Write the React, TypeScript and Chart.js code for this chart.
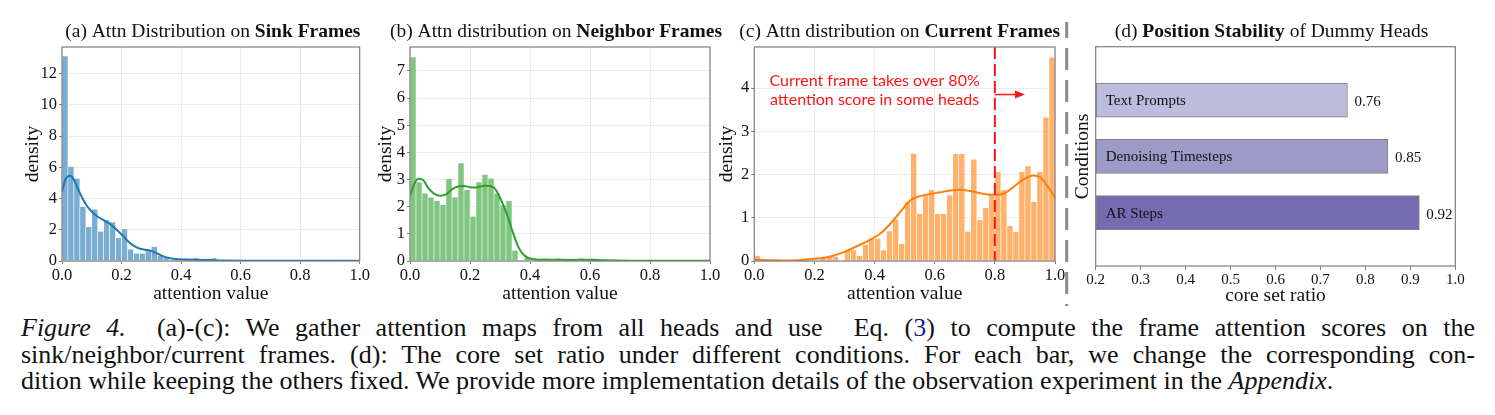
import React, { useEffect, useRef } from "react";
import { Chart, registerables } from "chart.js";

Chart.register(...registerables);

// ---- histogram data (density per 0.02-wide bin, 50 bins over [0, 1]) ----
const BIN_WIDTH = 0.02;

const SINK_DENSITY = [
  13.1, 6.04, 5.28, 3.48, 2.17, 3.3, 1.89, 2.61, 2.48, 1.48,
  2.04, 0.74, 0.48, 0.48, 0.65, 0.91, 0.33, 0.22, 0.09, 0.09,
  0.09, 0.13, 0.17, 0.07, 0.05, 0.17, 0.05, 0.03, 0.03, 0.02,
  0.02, 0.06, 0.02, 0.01, 0.01, 0.01, 0.01, 0.01, 0, 0,
  0.01, 0.01, 0, 0.01, 0.08, 0.02, 0, 0, 0, 0,
];

const NEIGHBOR_DENSITY = [
  7.5, 2.9, 2.49, 2.34, 2.21, 2.06, 3.03, 2.34, 3.6, 2.61,
  1.64, 2.9, 3.18, 3.04, 2.49, 2.05, 2.22, 0.39, 0, 0.12,
  0, 0.02, 0.09, 0.02, 0.09, 0.02, 0.02, 0.02, 0.09, 0.02,
  0.09, 0.01, 0, 0, 0, 0, 0, 0, 0, 0,
  0, 0, 0, 0, 0, 0, 0, 0, 0, 0,
];

const CURRENT_DENSITY = [
  0.12, 0, 0, 0, 0, 0, 0, 0, 0, 0,
  0, 0.1, 0.1, 0.1, 0, 0.25, 0.25, 0.12, 0.37, 0.52,
  0.52, 0.25, 0.69, 0.96, 0.4, 1.37, 2.48, 1.09, 1.52, 1.64,
  1.09, 1.09, 1.52, 2.48, 2.48, 0.68, 2.35, 0.95, 1.23, 1.52,
  2.06, 1.64, 0.81, 0.67, 2.06, 2.19, 1.37, 2.06, 3.32, 4.71,
];

// ---- kernel density estimates ----
const SINK_KDE_X = [0, 0.01, 0.02, 0.028, 0.04, 0.06, 0.08, 0.1, 0.12, 0.14, 0.16, 0.18, 0.2, 0.22, 0.24, 0.26, 0.28, 0.3, 0.32, 0.34, 0.36, 0.38, 0.42, 0.47, 0.53, 0.64, 0.76, 0.89, 1.0];
const SINK_KDE_Y = [4.42, 5.15, 5.42, 5.46, 5.2, 4.35, 3.63, 3.15, 2.83, 2.61, 2.39, 2.07, 1.7, 1.3, 0.98, 0.8, 0.72, 0.65, 0.48, 0.3, 0.2, 0.13, 0.09, 0.07, 0.04, 0.02, 0.01, 0.02, 0.01];

const NEIGHBOR_KDE_X = [0, 0.01, 0.027, 0.044, 0.06, 0.08, 0.1, 0.12, 0.14, 0.16, 0.18, 0.2, 0.22, 0.25, 0.278, 0.3, 0.322, 0.344, 0.361, 0.38, 0.4, 0.43, 0.48, 0.53, 0.59, 0.65, 0.75, 1.0];
const NEIGHBOR_KDE_Y = [2.4, 2.72, 3.03, 2.98, 2.7, 2.48, 2.4, 2.45, 2.64, 2.74, 2.76, 2.72, 2.71, 2.77, 2.72, 2.33, 1.75, 1.02, 0.52, 0.21, 0.09, 0.05, 0.05, 0.04, 0.05, 0.03, 0.01, 0.005];

const CURRENT_KDE_X = [0, 0.05, 0.1, 0.15, 0.2, 0.25, 0.3, 0.34, 0.38, 0.42, 0.451, 0.485, 0.518, 0.551, 0.584, 0.618, 0.651, 0.684, 0.717, 0.751, 0.784, 0.8, 0.828, 0.861, 0.894, 0.928, 0.95, 0.973, 0.99, 1.0];
const CURRENT_KDE_Y = [0.03, 0.02, 0.01, 0.02, 0.05, 0.1, 0.21, 0.34, 0.47, 0.64, 0.85, 1.13, 1.4, 1.5, 1.55, 1.59, 1.63, 1.65, 1.62, 1.57, 1.53, 1.53, 1.55, 1.71, 1.88, 1.98, 1.94, 1.75, 1.58, 1.46];

// ---- core set ratio per condition ----
const CONDITIONS = ["Text Prompts", "Denoising Timesteps", "AR Steps"];
const CORE_SET_RATIO = [0.76, 0.85, 0.92];
const CONDITION_COLORS = ["#bcbddc", "#9e9ac8", "#756bb1"];

const ATTN_THRESHOLD = 0.8;
const ANNOTATION_LINES = ["Current frame takes over 80%", "attention score in some heads"];

const SERIF = '"Liberation Serif", "Times New Roman", serif';
const INK = "#111111";
const SPINE = "#7f7f7f";
const GRID = "#ebebeb";

type Part = { text: string; bold?: boolean };

function titlePlugin(parts: Part[], shift = 0) {
  return {
    id: "panelTitle",
    afterDraw(chart: any) {
      const { ctx, chartArea } = chart;
      const fontOf = (p: Part) => `${p.bold ? "bold " : ""}19.5px ${SERIF}`;
      ctx.save();
      const widths = parts.map((p) => {
        ctx.font = fontOf(p);
        return ctx.measureText(p.text).width;
      });
      const total = widths.reduce((a, b) => a + b, 0);
      let x = (chartArea.left + chartArea.right) / 2 - total / 2 + shift;
      ctx.fillStyle = INK;
      ctx.textAlign = "left";
      ctx.textBaseline = "alphabetic";
      parts.forEach((p, i) => {
        ctx.font = fontOf(p);
        ctx.fillText(p.text, x, 37);
        x += widths[i];
      });
      ctx.restore();
    },
  };
}

const framePlugin = {
  id: "frame",
  afterDraw(chart: any) {
    const { ctx, chartArea: a } = chart;
    ctx.save();
    ctx.strokeStyle = SPINE;
    ctx.lineWidth = 1.2;
    ctx.strokeRect(a.left, a.top, a.right - a.left, a.bottom - a.top);
    ctx.restore();
  },
};

// red threshold marker on the current-frame panel
const thresholdPlugin = {
  id: "threshold",
  afterDatasetsDraw(chart: any) {
    const { ctx, chartArea: a, scales } = chart;
    const xs = scales.x;
    const ys = scales.y;
    const px = xs.getPixelForValue(ATTN_THRESHOLD);
    ctx.save();
    ctx.strokeStyle = "#ff1414";
    ctx.fillStyle = "#ff1414";
    ctx.lineWidth = 2;
    ctx.setLineDash([12, 5]);
    ctx.beginPath();
    ctx.moveTo(px, a.top);
    ctx.lineTo(px, a.bottom);
    ctx.stroke();
    ctx.setLineDash([]);
    const ay = ys.getPixelForValue(3.85);
    const tip = xs.getPixelForValue(0.9);
    ctx.lineWidth = 1.5;
    ctx.beginPath();
    ctx.moveTo(px, ay);
    ctx.lineTo(tip - 8, ay);
    ctx.stroke();
    ctx.beginPath();
    ctx.moveTo(tip, ay);
    ctx.lineTo(tip - 10, ay - 4);
    ctx.lineTo(tip - 10, ay + 4);
    ctx.closePath();
    ctx.fill();
    ctx.font = '16px Lato, "Noto Sans", sans-serif';
    ctx.textAlign = "center";
    ctx.textBaseline = "alphabetic";
    const cx = xs.getPixelForValue(0.4);
    ctx.fillText(ANNOTATION_LINES[0], cx, ys.getPixelForValue(4.05));
    ctx.fillText(ANNOTATION_LINES[1], cx, ys.getPixelForValue(3.6));
    ctx.restore();
  },
};

type HistSpec = {
  density: number[];
  kdeX: number[];
  kdeY: number[];
  fill: string;
  line: string;
  yMax: number;
  yStep: number;
  yAxisWidth: number;
  yTitlePad: number;
  padRight: number;
  title: Part[];
  titleShift: number;
  extra?: any[];
};

function histConfig(s: HistSpec): any {
  return {
    type: "bar",
    data: {
      datasets: [
        {
          type: "line",
          data: s.kdeX.map((x, i) => ({ x, y: s.kdeY[i] })),
          borderColor: s.line,
          borderWidth: 2,
          pointRadius: 0,
          cubicInterpolationMode: "monotone",
          fill: false,
          order: 0,
        },
        {
          type: "bar",
          data: s.density.map((v, i) => ({ x: (i + 0.5) * BIN_WIDTH, y: v })),
          backgroundColor: s.fill,
          borderColor: "#ffffff",
          borderWidth: { left: 0.6, right: 0.6, top: 0, bottom: 0 },
          borderSkipped: false,
          barPercentage: 1,
          categoryPercentage: 1,
          order: 1,
        },
      ],
    },
    options: {
      responsive: false,
      maintainAspectRatio: false,
      animation: false,
      devicePixelRatio: 1,
      layout: { padding: { left: 0, top: 47, right: s.padRight, bottom: 0 } },
      plugins: { legend: { display: false }, tooltip: { enabled: false } },
      scales: {
        x: {
          type: "linear",
          min: 0,
          max: 1,
          offset: false,
          afterFit: (sc: any) => {
            sc.height = 49;
          },
          grid: { offset: false, color: GRID, tickColor: SPINE, tickLength: 3 },
          border: { display: false },
          ticks: {
            stepSize: 0.2,
            autoSkip: false,
            maxRotation: 0,
            padding: 2,
            color: INK,
            font: { family: SERIF, size: 16.5 },
            callback: (v: any) => Number(v).toFixed(1),
          },
          title: {
            display: true,
            text: "attention value",
            color: INK,
            font: { family: SERIF, size: 19.5 },
            padding: { top: 0, bottom: 4 },
          },
        },
        y: {
          type: "linear",
          min: 0,
          max: s.yMax,
          afterFit: (sc: any) => {
            sc.width = s.yAxisWidth;
          },
          grid: { color: GRID, tickColor: SPINE, tickLength: 3 },
          border: { display: false },
          ticks: {
            stepSize: s.yStep,
            includeBounds: false,
            autoSkip: false,
            padding: 2,
            color: INK,
            font: { family: SERIF, size: 16.5 },
          },
          title: {
            display: true,
            text: "density",
            color: INK,
            font: { family: SERIF, size: 19.5 },
            padding: { top: s.yTitlePad, bottom: 0 },
          },
        },
      },
    },
    plugins: [framePlugin, titlePlugin(s.title, s.titleShift), ...(s.extra || [])],
  };
}

// bar labels and the panel separator for the core-set-ratio panel
const conditionLabelPlugin = {
  id: "conditionLabels",
  afterDraw(chart: any) {
    const { ctx, chartArea: a } = chart;
    const meta = chart.getDatasetMeta(0);
    ctx.save();
    ctx.fillStyle = INK;
    ctx.font = `15px ${SERIF}`;
    ctx.textBaseline = "middle";
    meta.data.forEach((bar: any, i: number) => {
      ctx.textAlign = "left";
      ctx.fillText(CONDITIONS[i], a.left + 10, bar.y + 1);
      ctx.fillText(CORE_SET_RATIO[i].toFixed(2), bar.x + 7, bar.y + 2);
    });
    // dashed divider between the histogram panels and this one
    ctx.strokeStyle = "#8a8a8a";
    ctx.lineWidth = 3;
    ctx.setLineDash([22, 10]);
    ctx.lineDashOffset = 6;
    ctx.beginPath();
    ctx.moveTo(6.7, 22);
    ctx.lineTo(6.7, 306);
    ctx.stroke();
    ctx.restore();
  },
};

function ratioConfig(): any {
  return {
    type: "bar",
    data: {
      datasets: [
        {
          data: CORE_SET_RATIO.map((v, i) => ({ x: v, y: i })),
          backgroundColor: CONDITION_COLORS,
          borderColor: "#808080",
          borderWidth: 1,
          borderSkipped: false,
          base: 0.2,
          barThickness: 34,
        },
      ],
    },
    options: {
      indexAxis: "y",
      responsive: false,
      maintainAspectRatio: false,
      animation: false,
      devicePixelRatio: 1,
      layout: { padding: { left: 0, top: 46.7, right: 39.7, bottom: 0 } },
      plugins: { legend: { display: false }, tooltip: { enabled: false } },
      scales: {
        x: {
          type: "linear",
          min: 0.2,
          max: 1.0,
          afterFit: (sc: any) => {
            sc.height = 44;
          },
          grid: { drawOnChartArea: false, tickColor: SPINE, tickLength: 4 },
          border: { display: false },
          ticks: {
            stepSize: 0.1,
            autoSkip: false,
            maxRotation: 0,
            padding: 1,
            color: INK,
            font: { family: SERIF, size: 15 },
            callback: (v: any) => Number(v).toFixed(1),
          },
          title: {
            display: true,
            text: "core set ratio",
            color: INK,
            font: { family: SERIF, size: 19.5 },
            padding: { top: 0, bottom: 2 },
          },
        },
        y: {
          type: "linear",
          min: -0.67,
          max: 2.67,
          reverse: true,
          afterFit: (sc: any) => {
            sc.width = 35.7;
          },
          grid: { display: false },
          border: { display: false },
          ticks: { display: false },
          title: {
            display: true,
            text: "Conditions",
            color: INK,
            font: { family: SERIF, size: 19.5 },
            padding: { top: 11, bottom: 0 },
          },
        },
      },
    },
    plugins: [
      framePlugin,
      titlePlugin(
        [
          { text: "(d) " },
          { text: "Position Stability", bold: true },
          { text: " of Dummy Heads" },
        ],
        -4
      ),
      conditionLabelPlugin,
    ],
  };
}

function ChartCanvas({ make, left, width }: { make: () => any; left: number; width: number }) {
  const ref = useRef<HTMLCanvasElement>(null);
  useEffect(() => {
    const chart = new Chart(ref.current as HTMLCanvasElement, make());
    return () => chart.destroy();
  }, []);
  return (
    <canvas
      ref={ref}
      width={width}
      height={310}
      style={{ position: "absolute", left, top: 0, width, height: 310 }}
    />
  );
}

const sinkPanel = () =>
  histConfig({
    density: SINK_DENSITY,
    kdeX: SINK_KDE_X,
    kdeY: SINK_KDE_Y,
    fill: "#79add2",
    line: "#1f77b4",
    yMax: 13.7,
    yStep: 2,
    yAxisWidth: 62,
    yTitlePad: 21.3,
    padRight: 9,
    title: [{ text: "(a) Attn Distribution on " }, { text: "Sink Frames", bold: true }],
    titleShift: 2,
  });

const neighborPanel = () =>
  histConfig({
    density: NEIGHBOR_DENSITY,
    kdeX: NEIGHBOR_KDE_X,
    kdeY: NEIGHBOR_KDE_Y,
    fill: "#80c680",
    line: "#2ca02c",
    yMax: 7.88,
    yStep: 1,
    yAxisWidth: 38,
    yTitlePad: 2.3,
    padRight: 34,
    title: [{ text: "(b) Attn distribution on " }, { text: "Neighbor Frames", bold: true }],
    titleShift: -4,
  });

const currentPanel = () =>
  histConfig({
    density: CURRENT_DENSITY,
    kdeX: CURRENT_KDE_X,
    kdeY: CURRENT_KDE_Y,
    fill: "#ffb26c",
    line: "#ff7f0e",
    yMax: 4.95,
    yStep: 1,
    yAxisWidth: 40.3,
    yTitlePad: 1.3,
    padRight: 21,
    title: [{ text: "(c) Attn distribution on " }, { text: "Current Frames", bold: true }],
    titleShift: -5,
    extra: [thresholdPlugin],
  });

export default function App() {
  return (
    <div
      style={{
        position: "absolute",
        left: 0,
        top: 0,
        width: 1495,
        height: 415,
        background: "#ffffff",
        overflow: "hidden",
      }}
    >
      <ChartCanvas make={sinkPanel} left={0} width={372} />
      <ChartCanvas make={neighborPanel} left={372} width={372} />
      <ChartCanvas make={currentPanel} left={714} width={362} />
      <ChartCanvas make={ratioConfig} left={1060} width={435} />
      <div
        style={{
          position: "absolute",
          left: 21,
          top: 315,
          width: 1454,
          fontFamily: SERIF,
          fontSize: 26,
          lineHeight: "26.5px",
          color: INK,
        }}
      >
        <div style={{ textAlign: "justify", textAlignLast: "justify" }}>
          <i>Figure 4.</i>&nbsp; (a)-(c): We gather attention maps from all heads and use&nbsp; Eq. (
          <span style={{ color: "#1a1a8c" }}>3</span>) to compute the frame attention scores on the
        </div>
        <div style={{ textAlign: "justify", textAlignLast: "justify" }}>
          sink/neighbor/current frames. (d): The core set ratio under different conditions. For each bar, we
          change the corresponding con-
        </div>
        <div>
          dition while keeping the others fixed. We provide more implementation details of the observation
          experiment in the <i>Appendix</i>.
        </div>
      </div>
    </div>
  );
}
